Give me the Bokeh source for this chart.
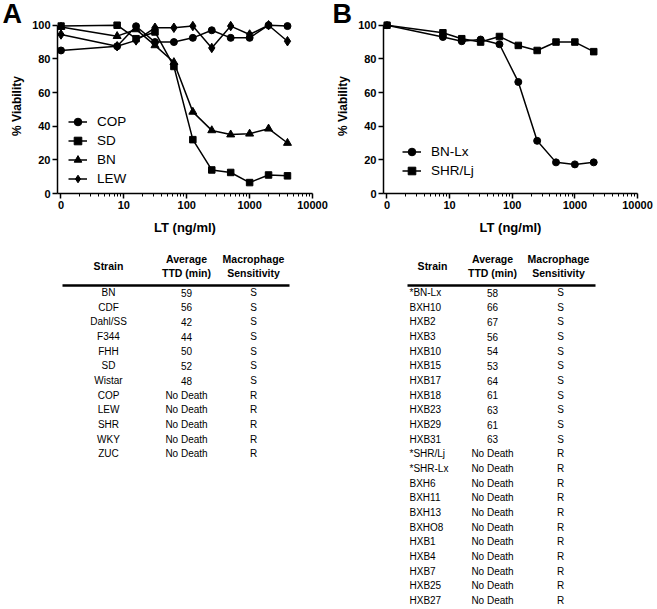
from bokeh.plotting import figure
from bokeh.models import Range1d, FixedTicker, Legend, LegendItem
from bokeh.layouts import column, row
from bokeh.embed import file_html
from bokeh.resources import INLINE
from bokeh.core.properties import value

FONT = "Liberation Sans"

# ---------------- data ----------------
# LT concentrations (ng/ml); 0 is drawn at the axis origin (1 on the log axis)
conc_a = [0, 7.8125, 15.625, 31.25, 62.5, 125, 250, 500, 1000, 2000, 4000]
via_cop = [85, 87.5, 99.4, 90, 90, 92.5, 97, 92.5, 92.5, 100, 99.5]
via_sd = [99.5, 100, 92, 96, 75.5, 32, 14, 12.5, 6.5, 11, 10.5]
via_bn = [99, 93.5, 97.5, 88, 78, 48.5, 37.5, 35, 35.5, 38.5, 30]
via_lew = [94.5, 87.5, 91, 98.5, 98.5, 99.5, 86.5, 99.5, 94.5, 100, 90.5]

conc_b = [0, 7.8125, 15.625, 31.25, 62.5, 125, 250, 500, 1000, 2000]
via_bnlx = [100, 93, 90.5, 91.5, 88.7, 66.3, 31.3, 18.5, 17.3, 18.5]
via_shrlj = [100, 95.5, 92, 90, 93.3, 88, 85, 90, 90, 84.3]

x_ticks = [1, 10, 100, 1000, 10000]
x_tick_labels = ["0", "10", "100", "1000", "10000"]
x_minor = [k * 10 ** d for d in range(4) for k in range(2, 10)]
y_ticks = [0, 20, 40, 60, 80, 100]

strain_a = ["BN", "CDF", "Dahl/SS", "F344", "FHH", "SD", "Wistar",
            "COP", "LEW", "SHR", "WKY", "ZUC"]
ttd_a = ["59", "56", "42", "44", "50", "52", "48",
         "No Death", "No Death", "No Death", "No Death", "No Death"]
sens_a = ["S"] * 7 + ["R"] * 5

strain_b = ["*BN-Lx", "BXH10", "HXB2", "HXB3", "HXB10", "HXB15", "HXB17",
            "HXB18", "HXB23", "HXB29", "HXB31", "*SHR/Lj", "*SHR-Lx", "BXH6",
            "BXH11", "BXH13", "BXHO8", "HXB1", "HXB4", "HXB7", "HXB25", "HXB27"]
ttd_b = ["58", "66", "67", "56", "54", "53", "64", "61", "63", "61", "63"] + ["No Death"] * 11
sens_b = ["S"] * 11 + ["R"] * 11

header_cols = [("Average", "TTD (min)"), ("Macrophage", "Sensitivity")]

CH = 248  # chart row height


def chart(width, min_left, min_right, conc, series, legend_xy, letter, letter_x):
    p = figure(width=width, height=CH, x_axis_type="log", title=letter,
               x_range=Range1d(10 ** -0.0555, 10000), y_range=Range1d(0, 104),
               output_backend="svg", toolbar_location=None,
               min_border_left=min_left, min_border_right=min_right,
               min_border_top=18, min_border_bottom=55)
    p.grid.visible = False
    p.outline_line_color = None
    p.background_fill_color = "white"
    p.border_fill_color = "white"

    t = p.title
    t.align = "left"
    t.offset = letter_x - min_left
    t.standoff = -21
    t.vertical_align = "bottom"
    t.text_font = FONT
    t.text_font_size = "27px"
    t.text_font_style = "bold"
    t.text_color = "black"

    xs = [c if c > 0 else 1 for c in conc]
    items = []
    for name, vals, marker, size in series:
        ln = p.line(xs, vals, line_color="black", line_width=1.5)
        sc = p.scatter(xs, vals, marker=marker, size=size,
                       fill_color="black", line_color="black")
        items.append(LegendItem(label=name, renderers=[ln, sc]))

    leg = Legend(items=items, location=legend_xy, glyph_width=19, glyph_height=19,
                 label_height=19, label_standoff=10, spacing=0, padding=0, margin=0,
                 border_line_color=None, background_fill_alpha=0,
                 label_text_font=FONT, label_text_font_size="13.5px",
                 label_text_color="black")
    p.add_layout(leg)

    xa = p.xaxis[0]
    xa.ticker = FixedTicker(ticks=x_ticks, minor_ticks=x_minor)
    xa.major_label_overrides = dict(zip(x_ticks, x_tick_labels))
    xa.axis_label = "LT (ng/ml)"
    xa.axis_label_standoff = 8
    xa.major_label_standoff = 2
    xa.minor_tick_out = 3
    xa.minor_tick_in = 0

    ya = p.yaxis[0]
    ya.ticker = FixedTicker(ticks=y_ticks, minor_ticks=[])
    ya.bounds = (0, 100)
    ya.axis_label = "% Viability"
    ya.axis_label_standoff = 5
    ya.major_label_standoff = 2

    for ax in (xa, ya):
        ax.axis_line_width = 1.5
        ax.axis_line_color = "black"
        ax.major_tick_out = 5
        ax.major_tick_in = 0
        ax.major_tick_line_width = 1.5
        ax.major_tick_line_color = "black"
        ax.minor_tick_line_color = "black"
        ax.minor_tick_line_width = 1
        ax.major_label_text_font = FONT
        ax.major_label_text_font_size = "11px"
        ax.major_label_text_font_style = "bold"
        ax.major_label_text_color = "black"
        ax.axis_label_text_font = FONT
        ax.axis_label_text_font_style = "bold"
        ax.axis_label_text_color = "black"
    xa.axis_label_text_font_size = "13px"
    ya.axis_label_text_font_size = "12px"
    return p


pA = chart(332, 57, 20, conc_a,
           [("COP", via_cop, "circle", 7), ("SD", via_sd, "square", 6.5),
            ("BN", via_bn, "triangle", 8), ("LEW", via_lew, "diamond", 9.5)],
           (11, 5), "A", 2)
pB = chart(325, 51, 20, conc_b,
           [("BN-Lx", via_bnlx, "circle", 7), ("SHR/Lj", via_shrlj, "square", 6.5)],
           (19, 13), "B", 0)


def table(width, height, row_px, strains, ttds, sens, strain_x, strain_align,
          strain_head_x, ttd_x, sens_x, sens_head_x, rule_x0, rule_x1):
    top_off = 44
    p = figure(width=width, height=height, x_range=Range1d(0, width),
               y_range=Range1d((height - top_off) / row_px, -top_off / row_px),
               output_backend="svg", toolbar_location=None,
               x_axis_location=None, y_axis_location=None, min_border=0)
    p.grid.visible = False
    p.outline_line_color = None
    n = len(strains)
    rows = list(range(n))
    common = dict(text_font=value(FONT), text_font_size="10px",
                  text_baseline="middle", text_color="black")
    p.text(x=[strain_x] * n, y=rows, text=strains, text_align=strain_align, **common)
    p.text(x=[ttd_x] * n, y=rows, text=ttds, text_align="center", **common)
    p.text(x=[sens_x] * n, y=rows, text=sens, text_align="center", **common)

    head = dict(text_font=value(FONT), text_font_size="10.5px", text_font_style="bold",
                text_baseline="middle", text_align="center", text_color="black")
    p.text(x=[strain_head_x], y=[-26.5 / row_px], text=["Strain"], **head)
    hx = [ttd_x, sens_head_x]
    p.text(x=hx, y=[-34 / row_px] * 2, text=[h[0] for h in header_cols], **head)
    p.text(x=hx, y=[-20 / row_px] * 2, text=[h[1] for h in header_cols], **head)
    p.line(x=[rule_x0, rule_x1], y=[-7 / row_px] * 2, line_color="black", line_width=2.5)
    return p


TH = 609 - CH
tA = table(332, TH, 14.67, strain_a, ttd_a, sens_a, 108, "center", 108, 186, 253, 253, 62, 289)
tB = table(325, TH, 14.67, strain_b, ttd_b, sens_b, 77, "left", 100, 160, 228, 226, 75, 263)

layout = column(row(pA, pB), row(tA, tB))
open("out.html", "w").write(file_html(layout, INLINE))
